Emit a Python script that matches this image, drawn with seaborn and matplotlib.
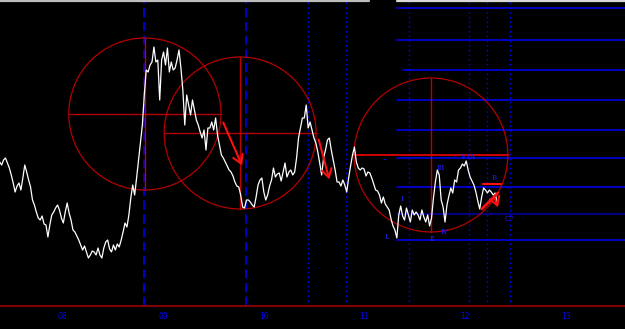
import numpy as np
import pandas as pd
import matplotlib
matplotlib.use("Agg")
import matplotlib.pyplot as plt
import matplotlib.dates as mdates
from matplotlib.patches import Ellipse
import seaborn as sns

# ---------------- data ----------------
start_date = "2007-05-18"
price = [144, 141, 146, 148, 143, 138, 131, 123, 114, 120, 123, 116, 128, 141, 134, 126, 119, 106, 101, 94,
         88, 86, 90, 82, 81, 69, 81, 91, 94, 98, 101, 96, 88, 83, 94, 103, 93, 86, 76, 74,
         70, 66, 61, 56, 60, 54, 48, 51, 55, 54, 51, 58, 51, 48, 58, 64, 66, 57, 54, 61,
         56, 62, 59, 66, 74, 83, 79, 91, 108, 121, 111, 128, 146, 163, 181, 211, 236, 234, 241, 244,
         259, 244, 246, 206, 246, 254, 241, 258, 234, 244, 236, 238, 246, 256, 238, 216, 181, 211, 201, 191,
         206, 196, 186, 181, 174, 168, 176, 156, 178, 178, 184, 176, 188, 171, 161, 151, 148, 144, 140, 136,
         134, 130, 124, 120, 119, 111, 99, 98, 106, 106, 104, 101, 99, 109, 121, 126, 128, 114, 106, 111,
         120, 126, 138, 129, 132, 133, 125, 134, 143, 129, 134, 136, 131, 134, 148, 168, 178, 188, 188, 201,
         178, 184, 176, 168, 163, 154, 143, 131, 148, 156, 166, 168, 156, 146, 136, 124, 124, 120, 126, 121,
         114, 128, 140, 151, 159, 144, 138, 136, 138, 137, 130, 134, 133, 128, 122, 116, 115, 111, 103, 109,
         102, 99, 96, 87, 80, 76, 68, 91, 100, 90, 86, 98, 91, 84, 96, 91, 94, 91, 86, 96,
         89, 84, 91, 80, 88, 108, 124, 136, 131, 106, 99, 84, 101, 110, 118, 113, 126, 124, 136, 138,
         142, 140, 145, 136, 129, 125, 121, 114, 105, 97, 109, 118, 116, 113, 116, 114, 111, 113, 103]
dates = pd.date_range(start_date, periods=len(price), freq="7D")
df = pd.DataFrame({"date": dates, "price": price})

year_ticks = [2008, 2009, 2010, 2011, 2012, 2013]
vline_dashed = [2008.811, 2009.821]
vline_dotted = [2010.440, 2010.817, 2011.447, 2012.043, 2012.216, 2012.451]
hline_levels = [298, 266, 236, 206, 176, 148, 119, 92, 66]
hline_start = 2011.324

# circles: (center decimal year, center price, radius in years, radius in price)
circles = [(2008.819, 192, 0.7555, 76), (2009.764, 173, 0.7555, 76), (2011.662, 151, 0.7654, 77)]

wave_labels = ["I", "II", "III", "IV", "V IA", "B", "L", "C?", "--"]
wave_years = [2011.374, 2011.672, 2011.762, 2011.801, 2012.030, 2012.289, 2011.225, 2012.438, 2011.205]
wave_prices = [107, 67, 138, 74, 149, 128, 69, 87, 146]


def dy(v):
    y = int(np.floor(v))
    return mdates.date2num(pd.Timestamp(year=y, month=1, day=1) + pd.Timedelta(days=(v - y) * 365.25))


# ---------------- figure ----------------
sns.set_theme(style="dark")
plt.rcParams["font.family"] = ["DejaVu Sans"]
fig = plt.figure(figsize=(6.25, 3.29), dpi=100, facecolor="black")
ax = fig.add_axes([0, 23 / 329, 1, 306 / 329])
ax.set_facecolor("black")

# horizontal blue levels
for lv in hline_levels:
    col = "#0000a8" if lv == 92 else "#0000ff"
    xs = hline_start if lv != 236 else hline_start + 0.06
    ax.plot([dy(xs), dy(2013.7)], [lv, lv], color=col, lw=1.1, zorder=1)

# vertical lines
for v in vline_dashed:
    ax.axvline(dy(v), color="#0000ff", lw=1.1, ls=(0, (6, 3)), zorder=1)
for v in vline_dotted:
    ax.axvline(dy(v), color="#0000ee", lw=1.0, ls=(0, (1.2, 2.2)), zorder=1)

# red circles with crosshairs
for i, (cx, cy, rx, ry) in enumerate(circles):
    e = Ellipse((dy(cx), cy), width=dy(cx + rx) - dy(cx - rx), height=2 * ry,
                fill=False, edgecolor="#b40000", lw=0.9, zorder=2)
    ax.add_patch(e)
    hc, hw = ("#e00000", 1.3) if i == 2 else ("#b40000", 1.0)
    ax.plot([dy(cx - rx), dy(cx + rx)], [cy, cy], color=hc, lw=hw, zorder=2)
    ax.plot([dy(cx), dy(cx)], [cy - ry, cy + ry], color="#c00000", lw=1.0, zorder=2)

# price line
sns.lineplot(data=df, x="date", y="price", color="white", lw=0.9, ax=ax, zorder=3)

# red arrows and lines
red = "#ff1010"
arrows = [((2009.585, 186), (2009.794, 138)), ((2010.539, 169), (2010.658, 124)),
          ((2012.289, 110), (2012.338, 96))]
for (x0, y0), (x1, y1) in arrows:
    ax.annotate("", xy=(dy(x1), y1), xytext=(dy(x0), y0),
                arrowprops=dict(arrowstyle="->,head_length=0.5,head_width=0.3", color=red, lw=1.5),
                zorder=4)
ax.plot([dy(2012.169), dy(2012.328)], [97, 113], color=red, lw=2.0, zorder=4)
ax.plot([dy(2012.179), dy(2012.358)], [122, 122], color=red, lw=1.5, zorder=4)

# wave labels
for t, x, y in zip(wave_labels, wave_years, wave_prices):
    ax.text(dy(x), y, t, color="#2020ff", fontsize=5, family="DejaVu Serif",
            ha="center", va="center", zorder=5)

# top gray strip
ax.plot([dy(2007.3), dy(2011.05)], [305.3, 305.3], color="#bdbdbd", lw=1.6, clip_on=False, zorder=6)
ax.plot([dy(2011.32), dy(2013.7)], [305.3, 305.3], color="#d8d8d8", lw=1.6, clip_on=False, zorder=6)

# axes
ax.set_xlim(dy(2007.378), dy(2013.590))
ax.set_ylim(0, 306)
ax.set_xticks([dy(y) for y in year_ticks])
ax.set_xticklabels([f"{y % 100:02d}" for y in year_ticks])
ax.tick_params(axis="x", colors="#8b0000", labelcolor="#0000ff", labelsize=5.5,
               length=2, width=1, direction="in", pad=4)
ax.set_yticks([])
ax.set_xlabel("")
ax.set_ylabel("")
ax.grid(False)
for s in ["top", "left", "right"]:
    ax.spines[s].set_visible(False)
ax.spines["bottom"].set_color("#a00000")
ax.spines["bottom"].set_linewidth(1.2)

fig.savefig("out.png", dpi=100, facecolor="black")
